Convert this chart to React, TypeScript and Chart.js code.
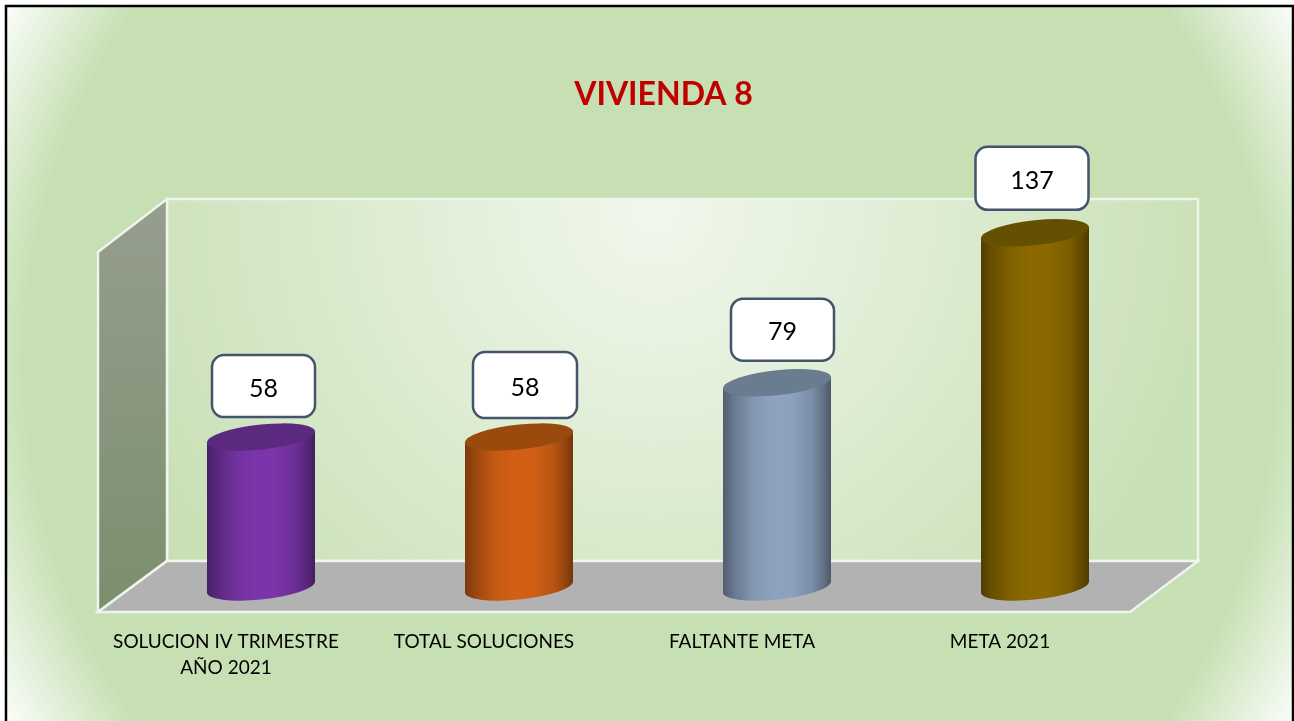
import React, { useEffect, useRef } from "react";
import { Chart, registerables } from "chart.js";

Chart.register(...registerables);

const categories: (string | string[])[] = [
  ["SOLUCION IV TRIMESTRE", "AÑO 2021"],
  "TOTAL SOLUCIONES",
  "FALTANTE META",
  "META 2021",
];
const values = [58, 58, 79, 137];
const chartTitle = "VIVIENDA 8";
const bodyMid = ["#7B35AA", "#D26014", "#8CA2BF", "#8B6900"];
const capColors = ["#5B2A80", "#9A4A0C", "#6A7C90", "#645000"];
// callout placement relative to the top of each bar [dx of centre, dy of centre]
const calloutDx = [2.5, 6, 5.5, -3];
const calloutDy = [-51, -52, -53, -54.5];
const calloutW = [103, 104, 103, 113];
const calloutH = [62, 66, 62, 63];
const FONT = "Lato, Carlito, Calibri, sans-serif";

const W = 1294;
const H = 721;
const CAP_RX = 54;
const CAP_RY = 12.5;
const SHEAR = 5.5 / 54;

const scenery = {
  id: "scenery",
  beforeDraw(chart: any) {
    const c = chart.ctx as CanvasRenderingContext2D;
    c.save();
    c.fillStyle = "#ffffff";
    c.fillRect(0, 0, W, H);
    // outer panel
    const bg = c.createRadialGradient(650, 363, 0, 650, 363, 736);
    bg.addColorStop(0, "#C6E0B4");
    bg.addColorStop(0.85, "#C6E0B4");
    bg.addColorStop(1, "#FBFDFA");
    c.fillStyle = bg;
    c.fillRect(6, 6, 1287, H);
    c.strokeStyle = "#000000";
    c.lineWidth = 2.5;
    c.strokeRect(6, 6, 1287, H + 20);

    // back wall
    const wall = c.createRadialGradient(655, 210, 0, 655, 210, 570);
    wall.addColorStop(0, "#F1F7EC");
    wall.addColorStop(0.2, "#E9F3E2");
    wall.addColorStop(1, "#C8E0B6");
    c.fillStyle = wall;
    c.fillRect(167, 199, 1031, 362);
    c.strokeStyle = "#EFF4EC";
    c.lineWidth = 2.5;
    c.strokeRect(167, 199, 1031, 362);

    // side wall
    const side = c.createLinearGradient(0, 199, 0, 612);
    side.addColorStop(0, "#969E8E");
    side.addColorStop(1, "#7A8F6E");
    c.fillStyle = side;
    c.beginPath();
    c.moveTo(98, 252);
    c.lineTo(167, 199);
    c.lineTo(167, 561);
    c.lineTo(98, 612);
    c.closePath();
    c.fill();
    c.stroke();

    // floor
    c.fillStyle = "#B2B2B2";
    c.beginPath();
    c.moveTo(167, 561);
    c.lineTo(1198, 561);
    c.lineTo(1130, 612);
    c.lineTo(98, 612);
    c.closePath();
    c.fill();
    c.stroke();
    c.restore();
  },
};

const cylinders = {
  id: "cylinders",
  afterDatasetsDraw(chart: any) {
    const c = chart.ctx as CanvasRenderingContext2D;
    const els = chart.getDatasetMeta(0).data;
    els.forEach((el: any, i: number) => {
      const { x, y, base } = el;
      const rx = el.width / 2;
      c.save();
      const shade = c.createLinearGradient(x - rx, 0, x + rx, 0);
      shade.addColorStop(0, "rgba(0,0,0,0.42)");
      shade.addColorStop(0.1, "rgba(0,0,0,0.26)");
      shade.addColorStop(0.28, "rgba(0,0,0,0.07)");
      shade.addColorStop(0.45, "rgba(0,0,0,0)");
      shade.addColorStop(0.62, "rgba(0,0,0,0)");
      shade.addColorStop(0.82, "rgba(0,0,0,0.12)");
      shade.addColorStop(0.93, "rgba(0,0,0,0.3)");
      shade.addColorStop(1, "rgba(0,0,0,0.45)");
      c.beginPath();
      c.save();
      c.transform(1, -SHEAR, 0, 1, x, base);
      c.ellipse(0, 0, rx, CAP_RY, 0, Math.PI, 0, true);
      c.restore();
      c.save();
      c.transform(1, -SHEAR, 0, 1, x, y);
      c.lineTo(rx, 0);
      c.lineTo(-rx, 0);
      c.restore();
      c.closePath();
      c.fillStyle = bodyMid[i];
      c.fill();
      c.fillStyle = shade;
      c.fill();
      c.save();
      c.transform(1, -SHEAR, 0, 1, x, y);
      c.beginPath();
      c.ellipse(0, 0, rx, CAP_RY, 0, 0, Math.PI * 2);
      c.restore();
      c.fillStyle = capColors[i];
      c.fill();
      c.restore();
    });
    // value callouts
    els.forEach((el: any, i: number) => {
      const cx = el.x + calloutDx[i];
      const cy = el.y + calloutDy[i];
      const w = calloutW[i];
      const h = calloutH[i];
      c.save();
      c.beginPath();
      c.roundRect(cx - w / 2, cy - h / 2, w, h, 12);
      c.fillStyle = "#ffffff";
      c.fill();
      c.strokeStyle = "#44546A";
      c.lineWidth = 2.5;
      c.stroke();
      c.fillStyle = "#000000";
      c.font = `25px ${FONT}`;
      c.textAlign = "center";
      c.textBaseline = "middle";
      c.fillText(String(values[i]), cx, cy + 2.5);
      c.restore();
    });
  },
};

const titleNudge = {
  id: "titleNudge",
  afterLayout(chart: any) {
    if (chart.titleBlock) {
      chart.titleBlock.left += 15.5;
      chart.titleBlock.right += 15.5;
    }
  },
};

export default function App() {
  const ref = useRef<HTMLCanvasElement>(null);
  useEffect(() => {
    const chart = new Chart(ref.current as HTMLCanvasElement, {
      type: "bar",
      data: {
        labels: categories as any,
        datasets: [
          {
            data: values,
            backgroundColor: "rgba(0,0,0,0)",
            barThickness: CAP_RX * 2,
            borderWidth: 0,
          },
        ],
      },
      options: {
        animation: false,
        responsive: false,
        layout: { padding: { left: 132, right: 130, top: 75, bottom: 0 } },
        plugins: {
          legend: { display: false },
          tooltip: { enabled: false },
          title: {
            display: true,
            text: chartTitle,
            color: "#C00000",
            font: { family: FONT, size: 32, weight: "bold", lineHeight: 1.2 },
            padding: { top: 0, bottom: 111.6 },
          },
        },
        scales: {
          x: {
            offset: true,
            grid: { display: false, drawTicks: false },
            border: { display: false },
            afterFit(scale: any) {
              scale.height = 134;
            },
            ticks: {
              color: "#000000",
              autoSkip: false,
              maxRotation: 0,
              minRotation: 0,
              labelOffset: -35,
              padding: 42,
              font: { family: FONT, size: 19, lineHeight: 26 / 19 },
            },
          },
          y: { display: false, min: 0, max: 140 },
        },
      } as any,
      plugins: [scenery, cylinders, titleNudge],
    });
    return () => chart.destroy();
  }, []);
  return (
    <canvas
      ref={ref}
      width={W}
      height={H}
      style={{ position: "absolute", left: 0, top: 0, width: W, height: H, display: "block" }}
    />
  );
}
